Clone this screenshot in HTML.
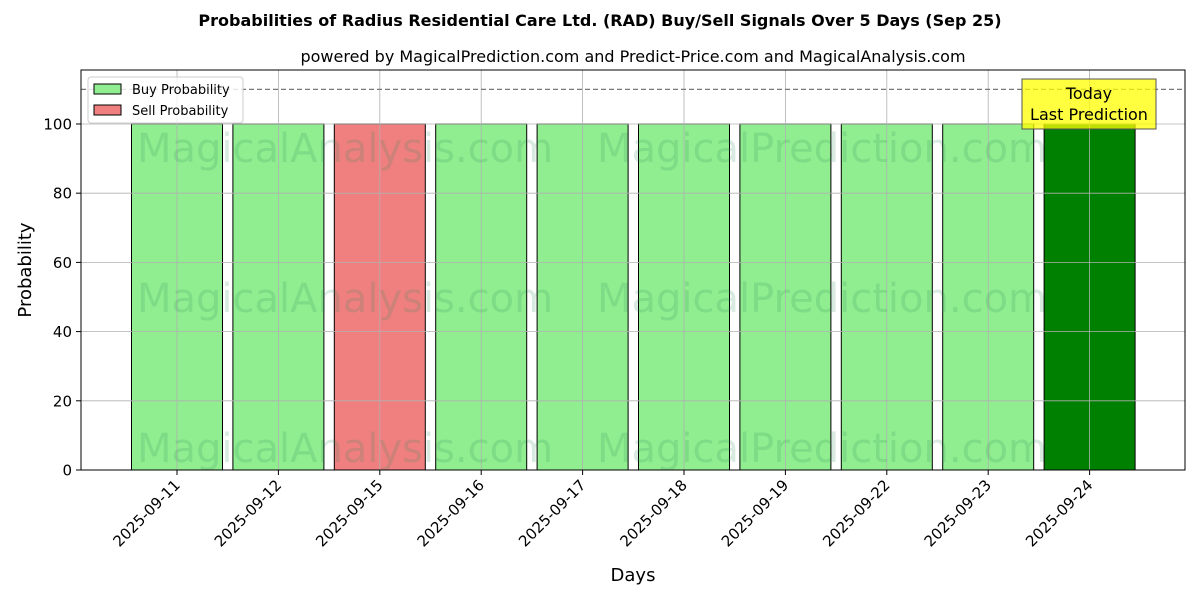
<!DOCTYPE html>
<html><head><meta charset="utf-8">
<style>
body{margin:0;background:#fff;}
svg text{font-family:"DejaVu Sans","Liberation Sans",sans-serif;}
</style></head>
<body>
<svg id="chart" width="1200" height="600" xmlns="http://www.w3.org/2000/svg">
<text x="600" y="26" text-anchor="middle" font-size="16" font-weight="bold">Probabilities of Radius Residential Care Ltd. (RAD) Buy/Sell Signals Over 5 Days (Sep 25)</text>
<text x="633" y="62" text-anchor="middle" font-size="16">powered by MagicalPrediction.com and Predict-Price.com and MagicalAnalysis.com</text>
<g id="bars"></g>
<g id="grid"></g>
<g id="wm"></g>
<rect x="81" y="70" width="1104" height="400" fill="none" stroke="#000" stroke-width="1"/>
<g id="yticks"></g>
<g id="xticks"></g>
<text x="31" y="270" text-anchor="middle" font-size="18" transform="rotate(-90 31 270)">Probability</text>
<text x="633" y="581" text-anchor="middle" font-size="18">Days</text>
<g>
<rect x="88" y="77" width="155" height="46" rx="3" fill="#fff" fill-opacity="0.8" stroke="#ccc"/>
<rect x="94" y="84" width="27" height="10" fill="#90ee90" stroke="#000"/>
<text x="132" y="94" font-size="13">Buy Probability</text>
<rect x="94" y="105" width="27" height="10" fill="#f08080" stroke="#000"/>
<text x="132" y="115" font-size="13">Sell Probability</text>
</g>
<g>
<rect x="1022" y="79" width="134" height="50" fill="#ffff00" fill-opacity="0.75" stroke="#555"/>
<text x="1089" y="99" text-anchor="middle" font-size="16">Today</text>
<text x="1089" y="120" text-anchor="middle" font-size="16">Last Prediction</text>
</g>
</svg>
<script>
const categories=["2025-09-11","2025-09-12","2025-09-15","2025-09-16","2025-09-17","2025-09-18","2025-09-19","2025-09-22","2025-09-23","2025-09-24"];
const values=[100,100,100,100,100,100,100,100,100,100];
const signals=["buy","buy","sell","buy","buy","buy","buy","buy","buy","today"];
const yTicks=[0,20,40,60,80,100];
const refLine=110;
const NS="http://www.w3.org/2000/svg";
const X0=81,X1=1185,Y0=470,Y1=70,YMAX=115.6;
const step=101.4, first=177;
function x(i){return first+i*step;}
function y(v){return Y0-(v/YMAX)*(Y0-Y1);}
function mk(t,a,p){const e=document.createElementNS(NS,t);for(const k in a)e.setAttribute(k,a[k]);p.appendChild(e);return e;}
const bars=document.getElementById('bars'),grid=document.getElementById('grid'),yt=document.getElementById('yticks'),xt=document.getElementById('xticks'),wm=document.getElementById('wm');
const colors={buy:"#90ee90",sell:"#f08080",today:"#008000"};
values.forEach((v,i)=>{
 const r=mk('rect',{x:x(i)-45.5,y:y(v),width:91,height:Y0-y(v),fill:colors[signals[i]],stroke:"#000","stroke-width":1},bars);
 
 
 const g=mk('line',{x1:x(i),x2:x(i),y1:Y1,y2:Y0,stroke:"#b0b0b0","stroke-width":0.8},grid);
 mk('line',{x1:x(i),x2:x(i),y1:Y0,y2:Y0+5,stroke:"#000"},xt);
 const t=mk('text',{x:x(i)+4,y:Y0+16,"font-size":15,"text-anchor":"end",transform:`rotate(-45 ${x(i)+4} ${Y0+16})`},xt);
 t.textContent=categories[i];
 
 
});
yTicks.forEach(v=>{
 mk('line',{x1:X0,x2:X1,y1:y(v),y2:y(v),stroke:"#b0b0b0","stroke-width":0.8},grid);
 mk('line',{x1:X0-5,x2:X0,y1:y(v),y2:y(v),stroke:"#000"},yt);
 const t=mk('text',{x:X0-9,y:y(v)+5.5,"font-size":15,"text-anchor":"end"},yt);
 t.textContent=v;
 
 
});
const rl=mk('line',{x1:X0,x2:X1,y1:y(refLine),y2:y(refLine),stroke:"#777","stroke-dasharray":"5,3","stroke-width":1.2},grid);


[[345,"MagicalAnalysis.com"],[822,"MagicalPrediction.com"]].forEach(([cx,s])=>{
 [148,298,448].forEach(cy=>{
  const t=mk('text',{x:cx,y:cy+14,"font-size":40,"text-anchor":"middle",fill:"#2e8b57","fill-opacity":0.18},wm);
  t.textContent=s;
  
  
 });
});
</script>
</body></html>
